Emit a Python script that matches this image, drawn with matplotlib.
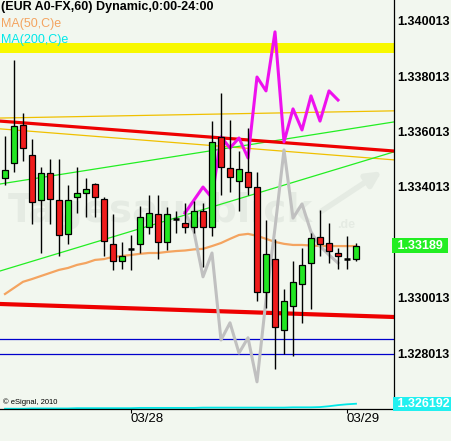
import numpy as np
import matplotlib
matplotlib.use('Agg')
import matplotlib.pyplot as plt
from matplotlib import transforms

plt.rcParams['font.family'] = ['Liberation Sans', 'DejaVu Sans']

# EUR A0-FX, 60 min candles
opens = [1.33434, 1.33488, 1.33625, 1.33517, 1.33354, 1.33452, 1.33354, 1.33232, 1.33365, 1.33380,
         1.33412, 1.33358, 1.33196, 1.33134, 1.33178, 1.33196, 1.33257, 1.33304, 1.33203, 1.33286,
         1.33271, 1.33257, 1.33315, 1.33257, 1.33582, 1.33470, 1.33423, 1.33455, 1.33401, 1.33023,
         1.33142, 1.32885, 1.32972, 1.33051, 1.33127, 1.33221, 1.33199, 1.33163, 1.33142, 1.33142]
highs = [1.33585, 1.33860, 1.33668, 1.33575, 1.33474, 1.33502, 1.33502, 1.33409, 1.33474, 1.33434,
         1.33416, 1.33365, 1.33304, 1.33203, 1.33228, 1.33333, 1.33372, 1.33372, 1.33329, 1.33315,
         1.33344, 1.33351, 1.33344, 1.33639, 1.33741, 1.33643, 1.33531, 1.33614, 1.33455, 1.33282,
         1.33214, 1.33033, 1.33134, 1.33181, 1.33235, 1.33318, 1.33271, 1.33181, 1.33225, 1.33199]
lows = [1.33409, 1.33455, 1.33495, 1.33268, 1.33163, 1.33268, 1.33152, 1.33196, 1.33308, 1.33293,
        1.33293, 1.33152, 1.33102, 1.33105, 1.33102, 1.33163, 1.33232, 1.33142, 1.33174, 1.33235,
        1.33235, 1.33235, 1.33113, 1.33225, 1.33372, 1.33383, 1.33315, 1.33372, 1.32990, 1.32965,
        1.32745, 1.32799, 1.32792, 1.32911, 1.32961, 1.33152, 1.33127, 1.33105, 1.33105, 1.33134]
closes = [1.33463, 1.33621, 1.33542, 1.33347, 1.33452, 1.33358, 1.33228, 1.33354, 1.33380, 1.33394,
          1.33365, 1.33207, 1.33134, 1.33152, 1.33178, 1.33293, 1.33308, 1.33203, 1.33304, 1.33286,
          1.33257, 1.33315, 1.33257, 1.33564, 1.33474, 1.33437, 1.33466, 1.33401, 1.33023, 1.33160,
          1.32896, 1.32990, 1.33059, 1.33120, 1.33217, 1.33196, 1.33170, 1.33152, 1.33142, 1.33189]

ma50 = [1.33015, 1.33037, 1.33059, 1.33069, 1.33080, 1.33091, 1.33102, 1.33109, 1.33120, 1.33127,
        1.33138, 1.33141, 1.33149, 1.33152, 1.33156, 1.33160, 1.33163, 1.33163, 1.33167, 1.33170,
        1.33172, 1.33176, 1.33178, 1.33188, 1.33199, 1.33214, 1.33228, 1.33232, 1.33225, 1.33214,
        1.33203, 1.33196, 1.33192, 1.33192, 1.33190, 1.33188, 1.33188, 1.33188, 1.33188, 1.33188]
ma200 = [1.32601, 1.32601, 1.32601, 1.32602, 1.32602, 1.32602, 1.32602, 1.32602, 1.32603, 1.32603,
         1.32603, 1.32603, 1.32603, 1.32603, 1.32603, 1.32604, 1.32604, 1.32604, 1.32604, 1.32604,
         1.32604, 1.32604, 1.32605, 1.32605, 1.32605, 1.32605, 1.32605, 1.32605, 1.32605, 1.32605,
         1.32605, 1.32605, 1.32606, 1.32606, 1.32606, 1.32607, 1.32610, 1.32614, 1.32617, 1.32619]

# pattern overlays, starting at candle 20
overlay_start = 20
overlay_magenta = [1.33307, 1.33354, 1.33401, 1.33362, 1.33582, 1.33542, 1.33578, 1.33506, 1.33798,
                   1.33748, 1.33961, 1.33564, 1.33683, 1.33607, 1.33730, 1.33639, 1.33748, 1.33715]
overlay_gray = [1.33311, 1.33239, 1.33077, 1.33163, 1.32849, 1.32911, 1.32802, 1.32857, 1.32698,
                1.32994, 1.33253, 1.33535, 1.33289, 1.33340, 1.33239, 1.33188, 1.33156, 1.33127]

# trend lines: price at left edge, price at right edge
red_upper = [1.33639, 1.33531]
red_lower = [1.32979, 1.32932]
gold_upper = [1.33650, 1.33676]
gold_lower = [1.33611, 1.33499]
green_upper = [1.33412, 1.33636]
green_lower = [1.33098, 1.33528]
yellow_level = 1.33903
blue_levels = [1.32853, 1.32799]

price_ticks = [1.328013, 1.330013, 1.334013, 1.336013, 1.338013, 1.340013]
date_ticks = [14, 38]
date_labels = ['03/28', '03/29']
last_price = 1.33189
ma200_last = 1.326192

bg = '#f2f7ef'
wm = '#e5ebe3'
up_col = '#22e622'
dn_col = '#f01c1c'

fig = plt.figure(figsize=(4.52, 4.41), dpi=100, facecolor=bg)
ax = fig.add_axes([0, 32 / 441, 394 / 452, 409 / 441])
ax.set_facecolor(bg)
xlim = (-5 / 9, 389 / 9)
ax.set_xlim(xlim)
ax.set_ylim(1.32600, 1.34076)

# watermark
ax.text(0.02, 0.485, 'Tagesausblick', transform=ax.transAxes, fontsize=28, fontweight='bold',
        color=wm, va='center', ha='left', zorder=0, family='DejaVu Sans', clip_on=True)
ax.text(0.855, 0.45, '.de', transform=ax.transAxes, fontsize=9, fontweight='bold',
        color=wm, va='center', ha='left', zorder=0, clip_on=True)
ax.annotate('', xy=(0.975, 0.585), xytext=(0.81, 0.48), xycoords='axes fraction',
            arrowprops=dict(arrowstyle='-|>', color=wm, lw=4, mutation_scale=22), zorder=0)

ax.axhline(yellow_level, color='#f8f800', lw=7.2, zorder=1)
for lv in blue_levels:
    ax.axhline(lv, color='#0000cc', lw=0.9, zorder=1)
ax.plot(xlim, gold_upper, color='#f0c000', lw=0.9, zorder=1)
ax.plot(xlim, gold_lower, color='#f0c000', lw=0.9, zorder=1)
ax.plot(xlim, green_upper, color='#22ee22', lw=0.9, zorder=1)
ax.plot(xlim, green_lower, color='#22ee22', lw=0.9, zorder=1)
ax.plot(xlim, red_upper, color='#ee0000', lw=2.3, zorder=1)
ax.plot(xlim, red_lower, color='#ee0000', lw=3.0, zorder=1)

idx = np.arange(len(opens))
ax.plot(idx, ma50, color='#f4a460', lw=1.6, zorder=2)
ax.plot(idx, ma200, color='#00e8e8', lw=1.3, zorder=2)
ov_x = np.arange(overlay_start, overlay_start + len(overlay_gray))
ax.plot(ov_x, overlay_gray, color='#c0c0c0', lw=2.2, zorder=2)
ax.plot(ov_x, overlay_magenta, color='#ee11ee', lw=2.2, zorder=2)

o = np.array(opens)
c = np.array(closes)
ax.vlines(idx, lows, highs, color='black', lw=1.0, zorder=3)
up = c > o
dn = c < o
doji = c == o
ax.bar(idx[up], (c - o)[up], bottom=o[up], width=0.67, color=up_col, edgecolor='black', lw=0.9, zorder=4)
ax.bar(idx[dn], (o - c)[dn], bottom=c[dn], width=0.67, color=dn_col, edgecolor='black', lw=0.9, zorder=4)
ax.hlines(c[doji], idx[doji] - 0.36, idx[doji] + 0.36, color='black', lw=1.8, zorder=4)

for s in ['top', 'left']:
    ax.spines[s].set_visible(False)
for s in ['right', 'bottom']:
    ax.spines[s].set_color('black')
    ax.spines[s].set_linewidth(0.9)

ax.yaxis.tick_right()
ax.set_yticks(price_ticks)
ax.set_yticklabels([f'{t:.6f}' for t in price_ticks], fontweight='bold')
ax.tick_params(axis='y', length=0, pad=2.5, labelsize=9)
ax.set_xticks(date_ticks)
ax.set_xticklabels(date_labels)
for lbl in ax.get_xticklabels():
    lbl.set_ha('left')
ax.tick_params(axis='x', length=3, width=0.8, pad=0, labelsize=9.5)

blend = transforms.blended_transform_factory(ax.transAxes, ax.transData)
ax.text(1.0, last_price, ' 1.33189 ', transform=blend, ha='left', va='center', color='white',
        fontsize=9, fontweight='bold', clip_on=False,
        bbox=dict(boxstyle='square,pad=0.12', fc='#22ee22', ec='none'))
ax.text(1.0, ma200_last, ' 1.326192', transform=blend, ha='left', va='center', color='white',
        fontsize=9, fontweight='bold', clip_on=False,
        bbox=dict(boxstyle='square,pad=0.08', fc='#22f0f0', ec='none'))

ax.text(0.008, 0.017, '\u00a9 eSignal, 2010', transform=ax.transAxes, fontsize=5.5, color='black',
        va='center', ha='left')

fig.text(1 / 452, 1 - 7 / 441, '(EUR A0-FX,60) Dynamic,0:00-24:00', fontsize=9, fontweight='bold',
         va='center', ha='left')
fig.text(1 / 452, 1 - 23.5 / 441, 'MA(50,C)e', fontsize=9, color='#f4a460', va='center', ha='left')
fig.text(1 / 452, 1 - 40 / 441, 'MA(200,C)e', fontsize=9, color='#00e8e8', va='center', ha='left')

fig.savefig('out.png', dpi=100, facecolor=bg)
